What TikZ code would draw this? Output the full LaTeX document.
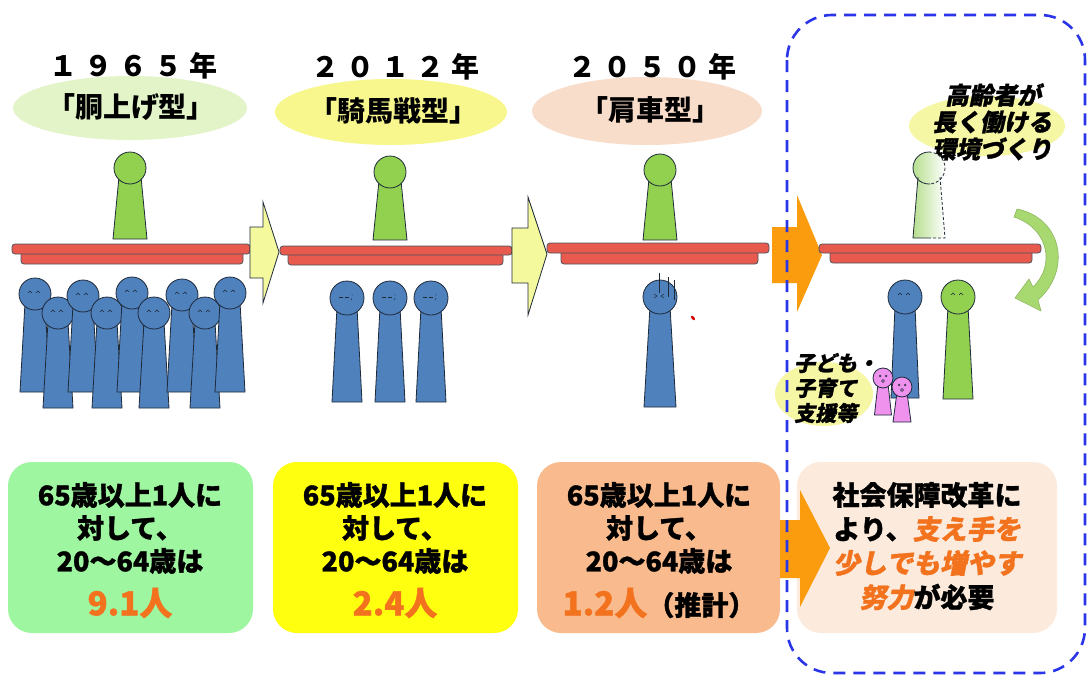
\documentclass[tikz,border=0pt]{standalone}
\usepackage{fontspec}
\newfontfamily\jpfont{Noto Sans CJK JP}
\newfontfamily\jpheavy[FakeBold=1.2]{Noto Sans CJK JP}
\newfontfamily\jpslant[FakeSlant=0.2,FakeBold=1.2]{Noto Sans CJK JP}
\definecolor{popblue}{HTML}{4F81BD}
\definecolor{popgreen}{HTML}{92D050}
\definecolor{fadegreen}{HTML}{B6DE8E}
\definecolor{traypink}{HTML}{E8594E}
\definecolor{arrowyellow}{HTML}{F4F99E}
\definecolor{arroworange}{HTML}{FB9B0E}
\definecolor{hdrgreen}{HTML}{E2F4C8}
\definecolor{hdryellow}{HTML}{F7F78E}
\definecolor{hdrpeach}{HTML}{F9DDCB}
\definecolor{boxgreen}{HTML}{9EF6A0}
\definecolor{boxyellow}{HTML}{FFFF10}
\definecolor{boxorange}{HTML}{F9BB8D}
\definecolor{boxpeach}{HTML}{FCEBDD}
\definecolor{numorange}{HTML}{F3721E}
\definecolor{dashblue}{HTML}{2B35E8}
\definecolor{pinkfig}{HTML}{EE92EE}
\definecolor{blobyellow}{HTML}{F6F7A4}
\definecolor{curvegreen}{HTML}{A8D870}
\definecolor{inkline}{HTML}{1E2A3A}

\tikzset{
  figline/.style={draw=inkline, line width=0.8pt, line join=round},
  faceline/.style={draw=inkline, line width=0.5pt},
  traybar/.style={draw=inkline!80, line width=0.8pt, fill=traypink, rounded corners=3pt},
  hdrtext/.style={inner sep=0pt, font=\jpfont\bfseries\fontsize{28}{30}\selectfont},
  boxtext/.style={inner sep=0pt, font=\jpheavy\bfseries\fontsize{27}{30}\selectfont},
  bignum/.style={inner sep=0pt, text=numorange, font=\jpheavy\bfseries\fontsize{33}{36}\selectfont},
  slanttext/.style={inner sep=0pt, font=\jpslant\bfseries\fontsize{24}{27}\selectfont},
  smallslant/.style={inner sep=0pt, anchor=west, font=\jpslant\bfseries\fontsize{21}{24}\selectfont},
  infobox/.style={rounded corners=24pt, draw=none},
  yellowarrow/.style={fill=arrowyellow, draw=inkline, line width=0.8pt, line join=miter},
  orangearrow/.style={fill=arroworange, draw=none}
}

% pawn figure: x, head y, radius, bottom y, top half width, bottom half width, colour
\newcommand\pawn[7]{%
  \filldraw[figline, fill=#7] ({#1-#5},{#2+0.55*#3}) -- ({#1+#5},{#2+0.55*#3})
    -- ({#1+#6},#4) -- ({#1-#6},#4) -- cycle;
  \filldraw[figline, fill=#7] (#1,#2) circle[radius=#3];
}
% smiling eyes
\newcommand\smileface[2]{%
  \draw[faceline] ({#1-7},{#2-1}) -- ({#1-5},{#2-3}) -- ({#1-3},{#2-1});
  \draw[faceline] ({#1+1},{#2-1}) -- ({#1+3},{#2-3}) -- ({#1+5},{#2-1});
}
% strained eyes with a drop of sweat
\newcommand\tiredface[2]{%
  \draw[faceline] ({#1-8},{#2-1}) -- ({#1-4},{#2-1});
  \draw[faceline] ({#1-2},{#2-1}) -- ({#1+2},{#2-1});
  \fill[inkline] ({#1+5},{#2-3}) circle[radius=0.5];
  \draw[faceline] ({#1+5},{#2}) -- ({#1+4.5},{#2+2});
}
% squeezed eyes
\newcommand\squeezeface[2]{%
  \draw[faceline] ({#1-8},{#2-3}) -- ({#1-5},{#2-1}) -- ({#1-8},{#2+1});
  \draw[faceline] ({#1+2},{#2-3}) -- ({#1-1},{#2-1}) -- ({#1+2},{#2+1});
}
% surprised small face
\newcommand\ohface[2]{%
  \draw[faceline] ({#1-3},{#2-2}) circle[radius=0.9];
  \draw[faceline] ({#1+3},{#2-2}) circle[radius=0.9];
  \draw[faceline] (#1,{#2+3}) circle[radius=1.5];
}

\begin{document}
\begin{tikzpicture}[x=1pt,y=-1pt]
\useasboundingbox (0,0) rectangle (1088,680);
\fill[white] (0,0) rectangle (1088,680);

% ---------- headings ----------
\fill[hdrgreen] (130,108) ellipse[x radius=117, y radius=32];
\fill[hdryellow] (391,112) ellipse[x radius=116, y radius=33];
\fill[hdrpeach] (647,111) ellipse[x radius=115, y radius=34];

\node[hdrtext] (y1965) at (133,66) {１\hspace{7pt}９\hspace{7pt}６\hspace{7pt}５\hspace{7pt}年};
\node[hdrtext] (t1965) at (131,107) {「胴上げ型」};
\node[hdrtext] (y2012) at (395,67) {２\hspace{7pt}０\hspace{7pt}１\hspace{7pt}２\hspace{7pt}年};
\node[hdrtext] (t2012) at (393,111) {「騎馬戦型」};
\node[hdrtext] (y2050) at (652,67) {２\hspace{7pt}０\hspace{7pt}５\hspace{7pt}０\hspace{7pt}年};
\node[hdrtext] (t2050) at (650,110) {「肩車型」};

% ---------- 1965 ----------
\pawn{130}{168}{16}{239}{11}{17}{popgreen}
\filldraw[traybar] (21,250) rectangle (243,264);
\filldraw[traybar] (12,244) rectangle (250,254);
\foreach \px/\py/\pb in {35/294/392, 58/313/408, 83/296/392, 107/313/408, 132/293/392,
                         154/313/408, 182/295/392, 205/313/408, 230/293/392}{
  \pawn{\px}{\py}{16}{\pb}{10}{15}{popblue}
  \smileface{\px}{\py}
}

% ---------- 2012 ----------
\pawn{390}{172}{16}{240}{11}{17}{popgreen}
\filldraw[traybar] (288,250) rectangle (503,265);
\filldraw[traybar] (280,246) rectangle (512,255);
\foreach \px in {347,390,431}{
  \pawn{\px}{298}{17}{402}{10}{15}{popblue}
  \tiredface{\px}{298}
}

% ---------- 2050 ----------
\pawn{660}{170}{16}{240}{11}{17}{popgreen}
\filldraw[traybar] (561,249) rectangle (758,264);
\filldraw[traybar] (547,243) rectangle (769,253);
\pawn{660}{297}{17}{407}{10}{16}{popblue}
\squeezeface{662}{297}
\draw[inkline, line width=1pt] (659,273) -- (659,293);
\draw[inkline, line width=1pt] (668,277) -- (668,297);
\draw[inkline, line width=1pt] (674,280) -- (674,300);
\fill[red!85!black, rotate around={-50:(693,318)}] (693,318) ellipse[x radius=2.6, y radius=1.4];

% ---------- arrows between stages ----------
\filldraw[yellowarrow] (250,227) -- (263,227) -- (263,202) -- (279,252) -- (263,303)
  -- (263,278) -- (250,278) -- cycle;
\filldraw[yellowarrow] (512,228) -- (528,228) -- (528,197) -- (547,254) -- (528,315)
  -- (528,283) -- (512,283) -- cycle;
\fill[orangearrow] (772,227) -- (797,227) -- (797,195) -- (822,255) -- (797,312)
  -- (797,283) -- (772,283) -- cycle;

% ---------- reform stage ----------
\fill[blobyellow] (987,126) ellipse[x radius=78, y radius=30];
\node[slanttext] (elder1) at (993,95) {高齢者が};
\node[slanttext] (elder2) at (992,122) {長く働ける};
\node[slanttext] (elder3) at (992,149) {環境づくり};

% faded figure stepping down from the tray
\shade[left color=fadegreen, right color=white] (918,177) -- (940,177) -- (945,238) -- (913,238) -- cycle;
\shade[left color=fadegreen, right color=white] (929,168) circle[radius=16];
\begin{scope}
  \clip (880,140) rectangle (930,250);
  \draw[figline] (918,177) -- (913,238) -- (945,238);
  \draw[figline] (929,168) circle[radius=16];
\end{scope}
\begin{scope}
  \clip (930,140) rectangle (980,250);
  \draw[figline, dash pattern=on 3pt off 2pt] (940,177) -- (945,238) -- (913,238);
  \draw[figline, dash pattern=on 3pt off 2pt] (929,168) circle[radius=16];
\end{scope}

\filldraw[traybar] (830,249) rectangle (1032,263);
\filldraw[traybar] (819,244) rectangle (1041,253);

% curved arrow bringing the elder down beside the supporters
\filldraw[fill=curvegreen, draw=curvegreen!85!black, line width=0.6pt, line join=round]
  (1017,209) .. controls (1062,218) and (1072,270) .. (1038,300)
  -- (1041,311) -- (1015,298) -- (1029,279) -- (1033,287)
  .. controls (1056,265) and (1048,228) .. (1014,217) -- cycle;

\pawn{905}{297}{17}{398}{10}{14}{popblue}
\smileface{905}{296}
\pawn{958}{297}{17}{399}{10}{15}{popgreen}
\smileface{958}{296}

\fill[blobyellow] (824,394) ellipse[x radius=49, y radius=32];
\pawn{883}{378}{10}{415}{5}{8.5}{pinkfig}
\ohface{883}{378}
\pawn{902}{387}{10}{422}{5}{9}{pinkfig}
\ohface{902}{387}
\node[smallslant] (child1) at (794,363) {子ども・};
\node[smallslant] (child2) at (794,388) {子育て};
\node[smallslant] (child3) at (794,413) {支援等};

% ---------- ratio boxes ----------
\fill[infobox, boxgreen] (8,462) rectangle (253,633);
\fill[infobox, boxyellow] (273,462) rectangle (518,633);
\fill[infobox, boxorange] (537,462) rectangle (780,633);
\fill[infobox, boxpeach] (797,462) rectangle (1057,633);

\fill[orangearrow] (780,520) -- (800,520) -- (800,490) -- (830,548) -- (800,607)
  -- (800,578) -- (780,578) -- cycle;

\node[boxtext] (a1) at (130,495) {65歳以上1人に};
\node[boxtext] (a2) at (130,528) {対して、};
\node[boxtext] (a3) at (130,561) {20～64歳は};
\node[bignum]  (a4) at (130,603) {9.1人};

\node[boxtext] (b1) at (395,495) {65歳以上1人に};
\node[boxtext] (b2) at (395,528) {対して、};
\node[boxtext] (b3) at (395,561) {20～64歳は};
\node[bignum]  (b4) at (395,603) {2.4人};

\node[boxtext] (c1) at (659,495) {65歳以上1人に};
\node[boxtext] (c2) at (659,528) {対して、};
\node[boxtext] (c3) at (659,561) {20～64歳は};
\node[boxtext] (c4) at (659,603) {{\color{numorange}\fontsize{33}{36}\selectfont 1.2人}（推計）};

\node[boxtext] (d1) at (927,495) {社会保障改革に};
\node[boxtext] (d2) at (927,529) {より、{\jpslant\bfseries\color{numorange}支え手を}};
\node[boxtext] (d3) at (927,563) {\jpslant\bfseries\color{numorange}少しでも増やす};
\node[boxtext] (d4) at (927,597) {{\jpslant\bfseries\color{numorange}努力}が必要};

% ---------- frame round the reform stage ----------
\draw[dashblue, line width=2.6pt, dash pattern=on 12pt off 8pt, rounded corners=45pt]
  (787,15) rectangle (1085,673);
\end{tikzpicture}
\end{document}
